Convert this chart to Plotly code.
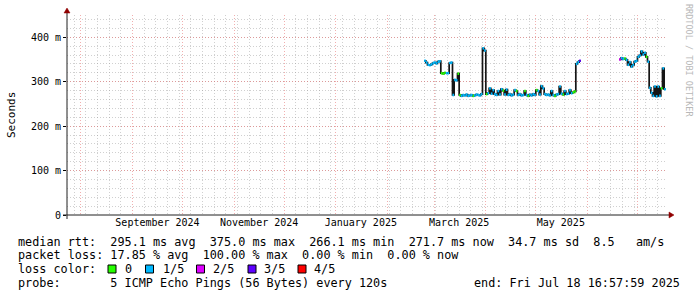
import plotly.graph_objects as go
import pandas as pd

# ---------------- data ----------------
x_start = "2024-07-23 16:57:59"
x_end = "2025-07-18 16:57:59"

seg1_start = "2025-02-23"
seg1_rtt_ms = [347, 343, 338, 337, 339, 342, 343, 341, 345, 346,
               319, 318, 320, 319, 319, 342, 343, 270, 304, 303,
               318, 270, 268, 270, 269, 271, 268, 269, 270, 268,
               269, 271, 270, 269, 272, 375, 370, 272, 274, 285,
               273, 281, 272, 270, 279, 271, 283, 280, 271, 282,
               270, 272, 269, 271, 281, 279, 270, 272, 269, 270,
               279, 270, 268, 271, 269, 272, 270, 281, 279, 271,
               290, 285, 272, 270, 271, 269, 279, 270, 268, 271,
               272, 289, 273, 271, 279, 272, 273, 281, 274, 276,
               278, 340, 344, 347]
seg1_loss = [1, 1, 1, 1, 1, 1, 1, 1, 1, 1,
             0, 0, 0, 1, 1, 1, 1, 1, 1, 1,
             0, 0, 1, 1, 1, 1, 1, 1, 1, 0,
             1, 1, 1, 1, 1, 1, 1, 0, 1, 1,
             1, 1, 1, 1, 1, 1, 1, 0, 1, 1,
             1, 1, 1, 1, 1, 0, 1, 1, 1, 1,
             0, 1, 0, 1, 1, 1, 1, 0, 1, 1,
             1, 1, 1, 1, 1, 1, 1, 1, 0, 1,
             1, 1, 1, 0, 1, 1, 1, 1, 1, 0,
             0, 1, 1, 3]

seg2_start = "2025-06-20"
seg2_rtt_ms = [350, 353, 351, 352, 349, 338, 344, 334, 338, 345,
               347, 356, 359, 368, 361, 365, 356, 345, 286, 275,
               268, 289, 267, 289, 268, 285, 330, 283]
seg2_loss = [2, 1, 1, 0, 1, 1, 1, 1, 1, 1,
             1, 1, 1, 1, 1, 1, 0, 1, 1, 1,
             1, 1, 1, 1, 1, 0, 1, 1]

loss_labels = ["0", "1/5", "2/5", "3/5", "4/5"]
loss_colors = ["#26ff00", "#00b8ff", "#dd00ff", "#5e00ff", "#ff0000"]

ytick_vals = [0, 0.1, 0.2, 0.3, 0.4]
ytick_text = ["0", "100 m", "200 m", "300 m", "400 m"]
xlabel_dates = ["2024-09-16", "2024-11-16", "2025-01-16", "2025-03-16", "2025-05-16"]
xlabel_text = ["September 2024", "November 2024", "January 2025", "March 2025", "May 2025"]

stats_line1 = "median rtt:  295.1 ms avg  375.0 ms max  266.1 ms min  271.7 ms now  34.7 ms sd  8.5   am/s"
stats_line2 = "packet loss: 17.85 % avg  100.00 % max  0.00 % min  0.00 % now"
probe_text = "probe:       5 ICMP Echo Pings (56 Bytes) every 120s"
end_text = "end: Fri Jul 18 16:57:59 2025"

# ---------------- geometry helpers ----------------
L, R, T, B = 67, 30, 15, 82
W, H = 697, 297
PW, PH = W - L - R, H - T - B
MONO = "DejaVu Sans Mono"


def px(x):
    return (x - L) / PW


def py(y):
    return (T + PH - y) / PH


def nb(s):
    return s.replace(" ", "\u00a0")


# ---------------- build series ----------------
segments = []
for start, vals, loss in [(seg1_start, seg1_rtt_ms, seg1_loss),
                          (seg2_start, seg2_rtt_ms, seg2_loss)]:
    d = pd.date_range(start, periods=len(vals), freq="D")
    segments.append((list(d), [v / 1000 for v in vals], loss))

fig = go.Figure()

# black median step line
bx, by = [], []
for d, v, _ in segments:
    bx += d + [d[-1] + pd.Timedelta(days=1), None]
    by += v + [v[-1], None]
fig.add_trace(go.Scatter(x=bx, y=by, mode="lines", line=dict(color="#151515", width=1.7, shape="hv"),
                         connectgaps=False, hoverinfo="skip", showlegend=False))

# loss coloured median segments
for c, col in enumerate(loss_colors):
    cx, cy = [], []
    for d, v, loss in segments:
        for t, val, l in zip(d, v, loss):
            if l == c:
                cx += [t, t + pd.Timedelta(days=1), None]
                cy += [val, val, None]
    if cx:
        fig.add_trace(go.Scatter(x=cx, y=cy, mode="lines", line=dict(color=col, width=2.6),
                                 hoverinfo="skip", showlegend=False))

# dummy trace for label axis
fig.add_trace(go.Scatter(x=[x_start], y=[None], xaxis="x2", showlegend=False, hoverinfo="skip"))

grid_minor = "rgba(150,150,150,0.45)"
grid_major = "rgba(230,110,110,0.55)"
dash = "1px,2px"

fig.update_layout(
    width=W, height=H,
    margin=dict(l=L, r=R, t=T, b=B),
    paper_bgcolor="white", plot_bgcolor="white",
    font=dict(family=MONO, size=10, color="#000"),
    showlegend=False,
    xaxis=dict(type="date", range=[x_start, x_end], tickmode="linear", dtick="M1",
               tick0="2024-08-01", showticklabels=False, ticks="", showgrid=True,
               gridcolor=grid_major, griddash=dash, gridwidth=1, zeroline=False, showline=False,
               minor=dict(tickmode="linear", dtick=7 * 86400000, tick0="2024-07-28",
                          showgrid=True, gridcolor=grid_minor, griddash=dash, gridwidth=1, ticks="")),
    xaxis2=dict(type="date", range=[x_start, x_end], overlaying="x", anchor="y", side="bottom",
                tickmode="array", tickvals=xlabel_dates, ticktext=xlabel_text, showgrid=False,
                ticks="", zeroline=False, showline=False, tickfont=dict(family=MONO, size=10, color="#000")),
    yaxis=dict(range=[0, 0.45], tickmode="array", tickvals=ytick_vals, ticktext=ytick_text,
               showgrid=True, gridcolor=grid_major, griddash=dash, gridwidth=1,
               ticks="outside", ticklen=3, tickcolor="#000", zeroline=False, showline=False,
               tickfont=dict(family=MONO, size=10, color="#000"),
               minor=dict(tickmode="linear", dtick=0.02, tick0=0, showgrid=True,
                          gridcolor=grid_minor, griddash=dash, gridwidth=1, ticks="")),
)

# axes lines and arrows
shapes = [
    dict(type="line", xref="paper", yref="paper", x0=px(63), x1=px(670), y0=py(215), y1=py(215),
         line=dict(color="#202020", width=1)),
    dict(type="line", xref="paper", yref="paper", x0=px(67), x1=px(67), y0=py(219), y1=py(12),
         line=dict(color="#202020", width=1)),
    dict(type="path", xref="paper", yref="paper",
         path=f"M {px(669)},{py(212)} L {px(674)},{py(215)} L {px(669)},{py(218)} Z",
         fillcolor="#900000", line=dict(color="#900000", width=0.5)),
    dict(type="path", xref="paper", yref="paper",
         path=f"M {px(64)},{py(13)} L {px(67)},{py(8)} L {px(70)},{py(13)} Z",
         fillcolor="#900000", line=dict(color="#900000", width=0.5)),
]

annotations = []
LEG = 11.8


def text(s, x, y, anchor="left", size=LEG):
    annotations.append(dict(text=nb(s), xref="paper", yref="paper", x=px(x), y=py(y),
                            xanchor=anchor, yanchor="middle", showarrow=False,
                            font=dict(family=MONO, size=size, color="#000")))


text(stats_line1, 16, 241.5)
text(stats_line2, 16, 255.3)
text("loss color:", 16, 269)
box_x = [108, 145.5, 196.5, 248, 298]
lab_x = [123.3, 160.7, 211, 262.3, 312.3]
for lbl, col, bxp, lxp in zip(loss_labels, loss_colors, box_x, lab_x):
    shapes.append(dict(type="rect", xref="paper", yref="paper", x0=px(bxp), x1=px(bxp + 8),
                       y0=py(273), y1=py(265), fillcolor=col, line=dict(color="#000", width=1)))
    text(lbl, lxp, 269)
text(probe_text, 16, 282.8)
text(end_text, 682, 282.8, anchor="right")

# y axis title
annotations.append(dict(text="Seconds", xref="paper", yref="paper", x=px(11), y=0.5,
                        textangle=-90, showarrow=False, xanchor="center", yanchor="middle",
                        font=dict(family=MONO, size=11, color="#000")))
# watermark
annotations.append(dict(text=nb("RRDTOOL / TOBI OETIKER"), xref="paper", yref="paper", x=px(689), y=py(60),
                        textangle=90, showarrow=False, xanchor="center", yanchor="middle",
                        font=dict(family=MONO, size=8.5, color="#b8b8b8")))

fig.update_layout(shapes=shapes, annotations=annotations)
fig.write_html("out.html", config={"displayModeBar": False},
               post_script="document.body.style.margin='0';document.body.style.overflow='hidden';")
